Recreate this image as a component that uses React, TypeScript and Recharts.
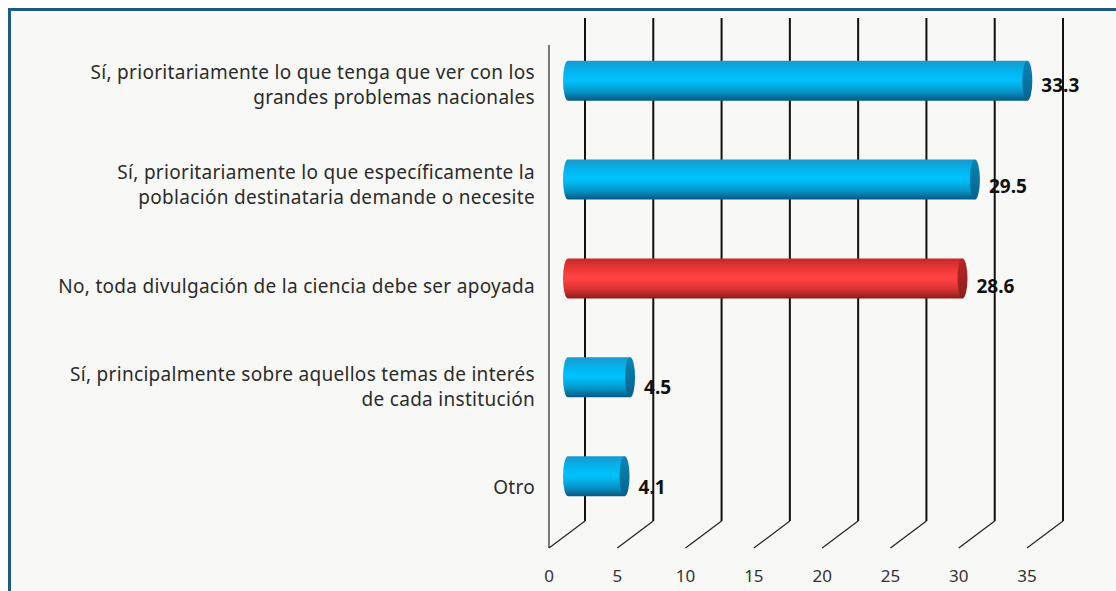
import React from 'react';
import { BarChart, Bar, XAxis, YAxis, CartesianGrid, LabelList } from 'recharts';

const categories = [
    'Sí, prioritariamente lo que tenga que ver con los grandes problemas nacionales',
    'Sí, prioritariamente lo que específicamente la población destinataria demande o necesite',
    'No, toda divulgación de la ciencia debe ser apoyada',
    'Sí, principalmente sobre aquellos temas de interés de cada institución',
    'Otro',
];
const labelLines = [
    ['Sí, prioritariamente lo que tenga que ver con los', 'grandes problemas nacionales'],
    ['Sí, prioritariamente lo que específicamente la', 'población destinataria demande o necesite'],
    ['No, toda divulgación de la ciencia debe ser apoyada'],
    ['Sí, principalmente sobre aquellos temas de interés', 'de cada institución'],
    ['Otro'],
];
const values = [33.3, 29.5, 28.6, 4.5, 4.1];
const highlighted = [false, false, true, false, false];
const xTicks = [0, 5, 10, 15, 20, 25, 30, 35];

const data = categories.map((name, i) => ({ name, value: values[i], highlight: highlighted[i] }));

const FONT = '"Noto Sans", "Open Sans", sans-serif';
// depth of the pseudo-3D wall
const DX = 36;
const DY = 27;
const WALL_H = 503;

const GridLine = (props: any) => {
    const { x1, y2, index } = props;
    const fy = y2 + 11;
    const by = fy - DY;
    return (
        <g key={`g-${index}`}>
            {index === 0 && <line x1={x1} y1={fy} x2={x1} y2={fy - WALL_H} stroke="#222" strokeWidth={1.2} />}
            <line x1={x1} y1={fy} x2={x1 + DX} y2={by} stroke="#222" strokeWidth={1.2} />
            <line x1={x1 + DX} y1={by} x2={x1 + DX} y2={by - WALL_H} stroke="#111" strokeWidth={2} />
        </g>
    );
};

const XTick = (props: any) => {
    const { x, y, payload } = props;
    return (
        <text x={x} y={y + 38} textAnchor="middle" dominantBaseline="central" fontFamily={FONT} fontSize={17} fill="#333">
            {payload.value}
        </text>
    );
};

const YTick = (props: any) => {
    const { x, y, payload, index } = props;
    const i = categories.indexOf(payload.value);
    const lines = labelLines[i >= 0 ? i : index] || [payload.value];
    const start = y - ((lines.length - 1) * 25) / 2;
    return (
        <text x={x - 14} textAnchor="end" fontFamily={FONT} fontSize={19} letterSpacing={0.3} fill="#2b2b2b">
            {lines.map((l: string, k: number) => (
                <tspan key={k} x={x - 14} y={start + k * 25} dominantBaseline="central">
                    {l}
                </tspan>
            ))}
        </text>
    );
};

const barGeom = (x: number, y: number, width: number, height: number) => {
    const c = 0.983 * (y + height / 2) - 2.1;
    const x0 = x + 19;
    const x1 = x0 + width * 1.01;
    return { c, x0, x1, h: height };
};

const Cylinder = (props: any) => {
    const { x, y, width, height, payload } = props;
    const { c, x0, x1, h } = barGeom(x, y, width, height);
    const rx = 5;
    const ry = h / 2;
    const top = c - ry;
    const bot = c + ry;
    const red = payload && payload.highlight;
    const body = `M${x0},${top} L${x1},${top} L${x1},${bot} L${x0},${bot} A${rx},${ry} 0 0 1 ${x0},${top} Z`;
    return (
        <g>
            <path d={body} fill={red ? 'url(#gradRed)' : 'url(#gradBlue)'} />
            <ellipse cx={x1} cy={c} rx={rx} ry={ry} fill={red ? 'url(#capRed)' : 'url(#capBlue)'} />
        </g>
    );
};

const ValueLabel = (props: any) => {
    const { x, y, width, height, value } = props;
    const { x1 } = barGeom(x, y, width, height);
    return (
        <text x={x1 + 14} y={y + height / 2 + 1} dominantBaseline="central" fontFamily={FONT} fontSize={19} fontWeight={700} fill="#111">
            {value}
        </text>
    );
};

export default function App() {
    return (
        <div
            style={{
                position: 'fixed',
                top: 8,
                left: 8,
                width: 1130,
                height: 620,
                border: '3px solid #1d5b8a',
                background: '#f8f8f6',
            }}
        >
            <svg width={0} height={0} style={{ position: 'absolute' }}>
                <defs>
                    <linearGradient id="gradBlue" x1="0" y1="0" x2="0" y2="1">
                        <stop offset="0%" stopColor="#1a98cc" />
                        <stop offset="30%" stopColor="#00b8f2" />
                        <stop offset="50%" stopColor="#00c2fc" />
                        <stop offset="78%" stopColor="#0694c8" />
                        <stop offset="100%" stopColor="#07587e" />
                    </linearGradient>
                    <linearGradient id="capBlue" x1="0" y1="0" x2="0" y2="1">
                        <stop offset="0%" stopColor="#0a86b8" />
                        <stop offset="100%" stopColor="#06628c" />
                    </linearGradient>
                    <linearGradient id="gradRed" x1="0" y1="0" x2="0" y2="1">
                        <stop offset="0%" stopColor="#c42828" />
                        <stop offset="30%" stopColor="#f23a3a" />
                        <stop offset="50%" stopColor="#ff4444" />
                        <stop offset="78%" stopColor="#d83030" />
                        <stop offset="100%" stopColor="#8a1c1c" />
                    </linearGradient>
                    <linearGradient id="capRed" x1="0" y1="0" x2="0" y2="1">
                        <stop offset="0%" stopColor="#b82626" />
                        <stop offset="100%" stopColor="#8c1e1e" />
                    </linearGradient>
                </defs>
            </svg>
            <BarChart
                width={1100}
                height={580}
                data={data}
                layout="vertical"
                margin={{ top: 23, right: 84, bottom: 4, left: 8 }}
            >
                <CartesianGrid horizontal={false} vertical={GridLine} />
                <XAxis
                    type="number"
                    domain={[0, 35]}
                    ticks={xTicks}
                    height={50}
                    axisLine={false}
                    tickLine={false}
                    tickSize={0}
                    tickMargin={0}
                    tick={XTick}
                    interval={0}
                />
                <YAxis
                    type="category"
                    dataKey="name"
                    width={530}
                    axisLine={false}
                    tickLine={false}
                    tickSize={0}
                    tickMargin={0}
                    tick={YTick}
                    interval={0}
                />
                <Bar dataKey="value" barSize={40} shape={Cylinder} isAnimationActive={false}>
                    <LabelList dataKey="value" content={ValueLabel} />
                </Bar>
            </BarChart>
        </div>
    );
}
